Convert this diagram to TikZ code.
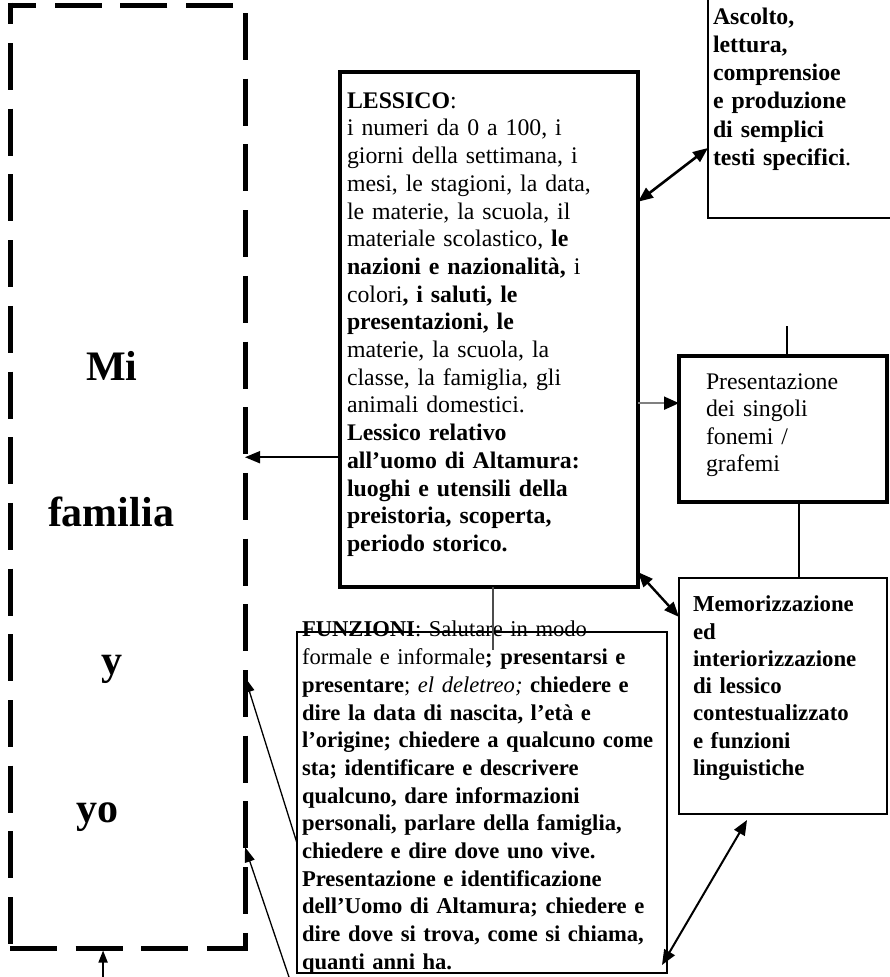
\documentclass[tikz,border=0pt]{standalone}
\usepackage{fontspec}
\setmainfont{Liberation Serif}
\usetikzlibrary{arrows.meta,calc}
\begin{document}
\begin{tikzpicture}[x=1pt,y=-1pt,
  box/.style={draw, inner sep=0pt, outer sep=0pt, anchor=north west},
  txt/.style={inner sep=0pt, outer sep=0pt, anchor=north west, align=left, text width=400pt, font=\fontsize{23.8}{27.7}\selectfont},
  big/.style={inner sep=0pt, anchor=base, font=\fontsize{42}{50}\selectfont\bfseries},
  tip/.style={-{Triangle[length=15pt,width=12pt]}},
  dtip/.style={{Triangle[length=15pt,width=12pt]}-{Triangle[length=15pt,width=12pt]}},
  famdash/.style={line width=5pt, dash pattern=on 47pt off 18.7pt},
]
\useasboundingbox (0,0) rectangle (890,977);

% left dashed frame
\node[inner sep=0pt, outer sep=0pt, minimum width=235pt, minimum height=943pt, anchor=north west] (fam) at (10,5) {};
\draw[famdash] ($(fam.north east)+(-12,0)$) -- ($(fam.north west)+(-2.5,0)$);
\draw[famdash, dash phase=25.2pt] ($(fam.north west)+(0,-2.5)$) -- ($(fam.south west)+(0,2.5)$);
\draw[famdash] (fam.south west) -- ($(fam.south east)+(2.5,0)$);
\draw[famdash, dash phase=57.7pt] (fam.north east) -- (fam.south east);
\node[big] (mi) at (112,380) {Mi};
\node[big] (familia) at (111,526.7) {familia};
\node[big] (yy) at (112,674) {y};
\node[big] (yo) at (97.5,822.7) {yo};

% boxes
\node[box, line width=4pt, minimum width=298pt, minimum height=515pt] (lex) at (340,72) {};
\node[box, line width=2.3pt, minimum width=185pt, minimum height=228pt] (top) at (708,-10) {};
\node[box, line width=4pt, minimum width=208pt, minimum height=146pt] (pres) at (679,356) {};
\node[box, line width=2.6pt, minimum width=208pt, minimum height=236pt] (memo) at (679,578) {};
\node[box, line width=2pt, minimum width=370pt, minimum height=341pt] (funz) at (297,632) {};

% texts
\node[txt] (lextxt) at (347,88.9) {\strut\textbf{LESSICO}:\\
i numeri da 0 a 100, i\\
giorni della settimana, i\\
mesi, le stagioni, la data,\\
le materie, la scuola, il\\
materiale scolastico, \textbf{le}\\
\textbf{nazioni e nazionalità,} i\\
colori\textbf{, i saluti, le}\\
\textbf{presentazioni, le}\\
materie, la scuola, la\\
classe, la famiglia, gli\\
animali domestici.\\
\textbf{Lessico relativo}\\
\textbf{all’uomo di Altamura:}\\
\textbf{luoghi e utensili della}\\
\textbf{preistoria, scoperta,}\\
\textbf{periodo storico.}};

\node[txt, font=\fontsize{23.8}{28.2}\selectfont] (toptxt) at (713,4.5) {\strut\textbf{Ascolto,}\\
\textbf{lettura,}\\
\textbf{comprensioe}\\
\textbf{e produzione}\\
\textbf{di semplici}\\
\textbf{testi specifici}.};

\node[txt, font=\fontsize{23.8}{27.6}\selectfont] (prestxt) at (706,369.7) {\strut Presentazione\\
dei singoli\\
fonemi /\\
grafemi};

\node[txt, font=\fontsize{22.8}{27.3}\selectfont\bfseries] (memotxt) at (693,592.6) {\strut Memorizzazione\\
ed\\
interiorizzazione\\
di lessico\\
contestualizzato\\
e funzioni\\
linguistiche};

\node[txt, font=\fontsize{22.6}{27.7}\selectfont] (funztxt) at (302,617.6) {\strut\textbf{FUNZIONI}: Salutare in modo\\
formale e informale\textbf{; presentarsi e}\\
\textbf{presentare}; \textit{el deletreo;} \textbf{chiedere e}\\
\textbf{dire la data di nascita, l’età e}\\
\textbf{l’origine; chiedere a qualcuno come}\\
\textbf{sta; identificare e descrivere}\\
\textbf{qualcuno, dare informazioni}\\
\textbf{personali, parlare della famiglia,}\\
\textbf{chiedere e dire dove uno vive.}\\
\textbf{Presentazione e identificazione}\\
\textbf{dell’Uomo di Altamura; chiedere e}\\
\textbf{dire dove si trova, come si chiama,}\\
\textbf{quanti anni ha.}};

% redraw FUNZIONI top border over its first line
\draw[line width=2pt] (funz.north west) -- (funz.north east);

% connectors
\coordinate (a1) at ($(lex.north west)!0.748!(lex.south west)$);
\draw[tip, line width=1.7pt] (a1) -- (a1 -| fam.east);

\coordinate (a2) at ($(lex.north east)!0.252!(lex.south east)$);
\coordinate (b2) at ($(top.north west)!0.693!(top.south west)$);
\draw[dtip, line width=2.6pt] (a2) -- (b2);

\coordinate (a3) at ($(lex.north east)!0.643!(lex.south east)$);
\draw[line width=2pt, draw=black!50, -{Triangle[length=15pt,width=13pt,black]}] (a3) -- (a3 -| pres.west);

\coordinate (a4) at ($(pres.north west)!0.52!(pres.north east)$);
\coordinate (e4) at (a4 |- 0,326);
\draw[line width=1.7pt] (a4) -- (e4);

\coordinate (a5) at ($(pres.south west)!0.577!(pres.south east)$);
\draw[line width=2pt] (a5) -- (a5 |- memo.north);

\coordinate (a6) at ($(lex.north east)!0.971!(lex.south east)$);
\coordinate (b6) at ($(memo.north west)!0.165!(memo.south west)$);
\draw[dtip, line width=2.4pt] (a6) -- (b6);

\coordinate (a7) at ($(funz.south east)+(-5,-8)$);
\coordinate (b7) at ($($(memo.south west)!0.327!(memo.south east)$)+(0,6)$);
\draw[dtip, line width=2pt] (a7) -- (b7);

\coordinate (a8) at ($(funz.north west)!0.619!(funz.south west)$);
\coordinate (b8) at ($(fam.north east)!0.713!(fam.south east)$);
\draw[line width=1.3pt, -{Triangle[length=15pt,width=10pt]}] (a8) -- (b8);

\coordinate (e9) at (290,980);
\coordinate (b9) at ($(fam.north east)!0.893!(fam.south east)$);
\draw[line width=1.3pt, -{Triangle[length=15pt,width=10pt]}] (e9) -- (b9);

\coordinate (b10) at ($(fam.south west)!0.396!(fam.south east)$);
\coordinate (e10) at (b10 |- 0,980);
\draw[line width=1.7pt, -{Triangle[length=12pt,width=9pt]}] (e10) -- ($(b10)+(0,2.5)$);

\coordinate (a11) at ($(lex.south west)!0.513!(lex.south east)$);
\coordinate (e11) at (a11 |- 0,650);
\draw[line width=1.8pt, draw=black!70] (a11) -- (e11);
\end{tikzpicture}
\end{document}
